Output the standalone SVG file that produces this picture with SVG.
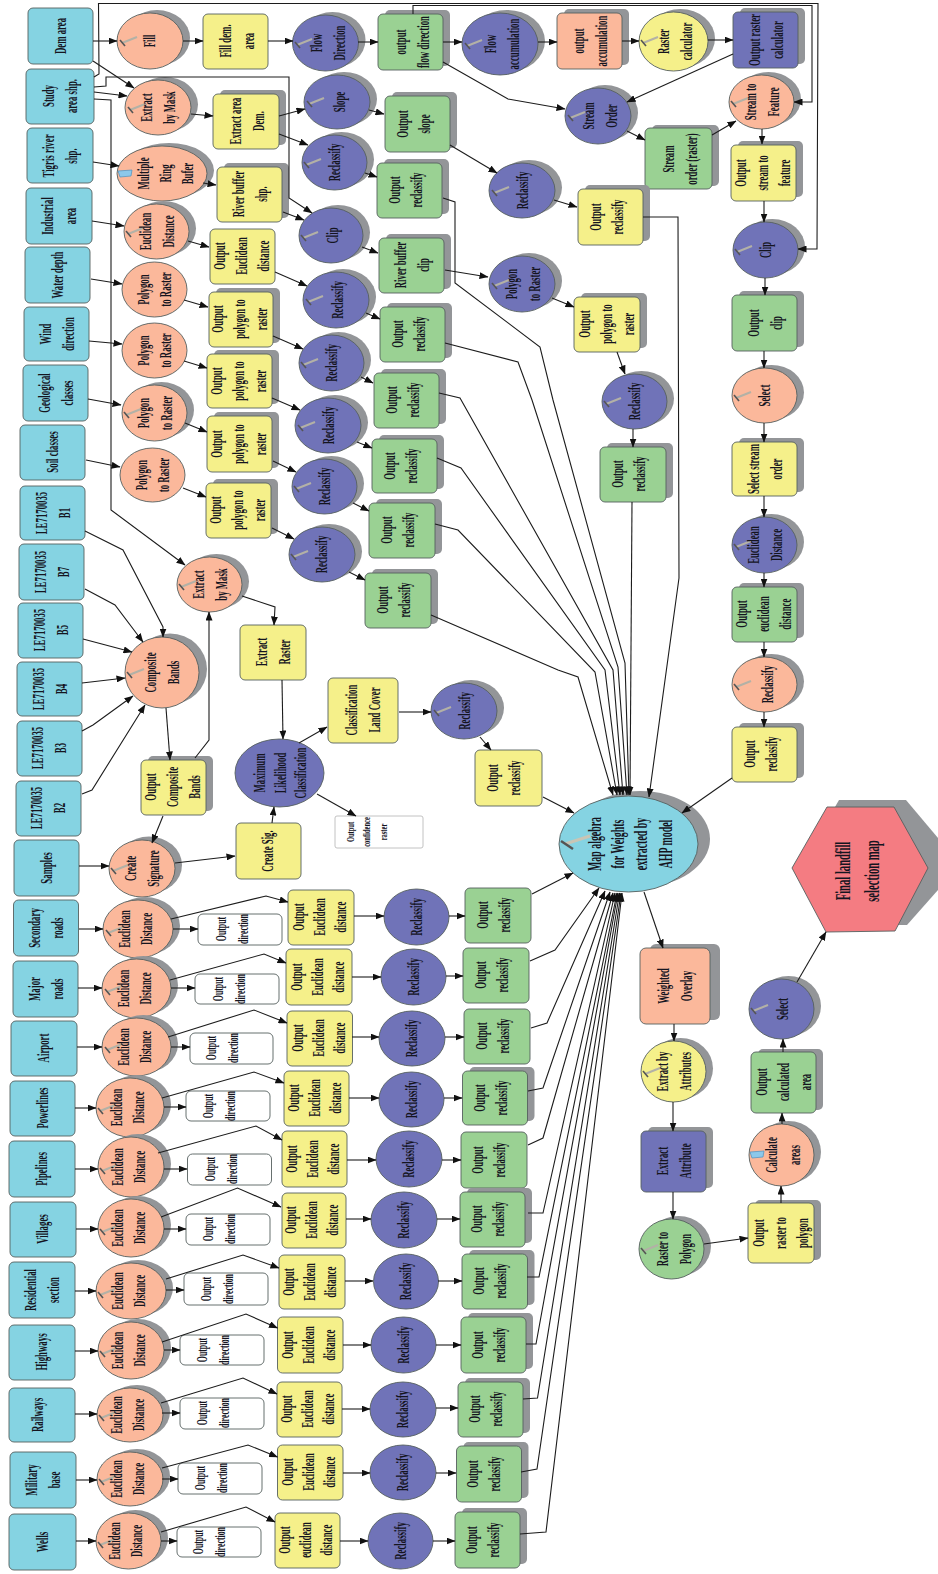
<svg xmlns="http://www.w3.org/2000/svg" xmlns:xlink="http://www.w3.org/1999/xlink" width="938" height="1574" viewBox="0 0 938 1574">
<style>
rect,ellipse,polygon{stroke:#56605f;stroke-width:.9}
.sh{fill:#939598;stroke:none}
.lb{fill:#85d3e2}.sa{fill:#fbb89b}.ye{fill:#f5f08a}.bl{fill:#7073b8}.gr{fill:#9ad193}.re{fill:#f47c82}.wh{fill:#fff}
text{font-family:"Liberation Serif","Times New Roman",serif;font-weight:700;font-size:16px;text-anchor:middle;fill:#15151f}
.sm{font-size:14px}.xs{font-size:10.5px}.lg{font-size:18px}.hx{font-size:20px}
#links polyline{fill:none;stroke:#1c1c1c;stroke-width:1.1;marker-end:url(#a)}
</style>
<defs>
<marker id="a" markerUnits="userSpaceOnUse" markerWidth="9" markerHeight="7" refX="8.5" refY="3.5" orient="auto"><path d="M0 0L9 3.5L0 7z" fill="#111"/></marker>
<g id="h"><path d="M0 0L15-6" stroke="#b3b1a6" stroke-width="2" fill="none"/><path d="M-2-3L3 3" stroke="#555" stroke-width="1.6" fill="none"/></g>
<g id="s"><path d="M0-3L14-4L13 2L2 3z" fill="#8cc8ea" stroke="#4a90c0" stroke-width=".7"/></g>
</defs>
<g id="nodes">
<g id="dem-area"><rect class="lb" x="28" y="8" width="65" height="56" rx="5"/><text transform="translate(60.5 36) rotate(-90) scale(.55 1)" y="5">Dem area</text></g>
<g id="study-area"><rect class="lb" x="26" y="69" width="68" height="55" rx="5"/><text transform="translate(60 96) rotate(-90) scale(.55 1)"><tspan x="0" y="-6">Study</tspan><tspan x="0" y="17">area shp.</tspan></text></g>
<g id="tigris"><rect class="lb" x="27" y="128" width="66" height="55" rx="5"/><text transform="translate(60 156) rotate(-90) scale(.55 1)"><tspan x="0" y="-6">Tigris river</tspan><tspan x="0" y="17">shp.</tspan></text></g>
<g id="industrial"><rect class="lb" x="26" y="188" width="66" height="56" rx="5"/><text transform="translate(59 216) rotate(-90) scale(.55 1)"><tspan x="0" y="-6">Industrial</tspan><tspan x="0" y="17">area</tspan></text></g>
<g id="water-depth"><rect class="lb" x="25" y="247" width="65" height="56" rx="5"/><text transform="translate(58 275) rotate(-90) scale(.55 1)" y="5">Water depth</text></g>
<g id="wind"><rect class="lb" x="24" y="307" width="65" height="54" rx="5"/><text transform="translate(57 334) rotate(-90) scale(.55 1)"><tspan x="0" y="-6">Wind</tspan><tspan x="0" y="17">direction</tspan></text></g>
<g id="geological"><rect class="lb" x="23" y="365" width="65" height="56" rx="5"/><text transform="translate(56 393) rotate(-90) scale(.55 1)"><tspan x="0" y="-6">Geological</tspan><tspan x="0" y="17">classes</tspan></text></g>
<g id="soil"><rect class="lb" x="20" y="425" width="65" height="55" rx="5"/><text transform="translate(53 452) rotate(-90) scale(.55 1)" y="5">Soil classes</text></g>
<g id="b1"><rect class="lb" x="20" y="486" width="65" height="54" rx="5"/><text transform="translate(53 513) rotate(-90) scale(.55 1)"><tspan x="0" y="-6">LE7170035</tspan><tspan x="0" y="17">B1</tspan></text></g>
<g id="b7"><rect class="lb" x="19" y="544" width="65" height="56" rx="5"/><text transform="translate(52 572) rotate(-90) scale(.55 1)"><tspan x="0" y="-6">LE7170035</tspan><tspan x="0" y="17">B7</tspan></text></g>
<g id="b5"><rect class="lb" x="18" y="603" width="65" height="55" rx="5"/><text transform="translate(51 630) rotate(-90) scale(.55 1)"><tspan x="0" y="-6">LE7170035</tspan><tspan x="0" y="17">B5</tspan></text></g>
<g id="b4"><rect class="lb" x="17" y="662" width="65" height="54" rx="5"/><text transform="translate(50 689) rotate(-90) scale(.55 1)"><tspan x="0" y="-6">LE7170035</tspan><tspan x="0" y="17">B4</tspan></text></g>
<g id="b3"><rect class="lb" x="17" y="721" width="65" height="55" rx="5"/><text transform="translate(49 748) rotate(-90) scale(.55 1)"><tspan x="0" y="-6">LE7170035</tspan><tspan x="0" y="17">B3</tspan></text></g>
<g id="b2"><rect class="lb" x="16" y="781" width="65" height="55" rx="5"/><text transform="translate(48 808) rotate(-90) scale(.55 1)"><tspan x="0" y="-6">LE7170035</tspan><tspan x="0" y="17">B2</tspan></text></g>
<g id="samples"><rect class="lb" x="14" y="840" width="65" height="56" rx="5"/><text transform="translate(47 868) rotate(-90) scale(.55 1)" y="5">Samples</text></g>
<g id="secondary"><rect class="lb" x="13.5" y="900" width="65" height="56" rx="5"/><text transform="translate(46 928) rotate(-90) scale(.55 1)"><tspan x="0" y="-6">Secondary</tspan><tspan x="0" y="17">roads</tspan></text></g>
<g id="major"><rect class="lb" x="13" y="961" width="65" height="56" rx="5"/><text transform="translate(46 989) rotate(-90) scale(.55 1)"><tspan x="0" y="-6">Major</tspan><tspan x="0" y="17">roads</tspan></text></g>
<g id="airport"><rect class="lb" x="11" y="1021" width="66" height="55" rx="5"/><text transform="translate(44 1048) rotate(-90) scale(.55 1)" y="5">Airport</text></g>
<g id="powerlines"><rect class="lb" x="10" y="1081" width="65" height="55" rx="5"/><text transform="translate(42.500 1108) rotate(-90) scale(.55 1)" y="5">Powerlines</text></g>
<g id="pipelines"><rect class="lb" x="9" y="1141" width="66" height="56" rx="5"/><text transform="translate(42 1169) rotate(-90) scale(.55 1)" y="5">Pipelines</text></g>
<g id="villages"><rect class="lb" x="10" y="1202" width="66" height="55" rx="5"/><text transform="translate(43 1229) rotate(-90) scale(.55 1)" y="5">Villages</text></g>
<g id="residential"><rect class="lb" x="9" y="1262" width="66" height="56" rx="5"/><text transform="translate(42 1290) rotate(-90) scale(.55 1)"><tspan x="0" y="-6">Residential</tspan><tspan x="0" y="17">section</tspan></text></g>
<g id="highways"><rect class="lb" x="9" y="1325" width="66" height="55" rx="5"/><text transform="translate(42 1352) rotate(-90) scale(.55 1)" y="5">Highways</text></g>
<g id="railways"><rect class="lb" x="9" y="1388" width="66" height="54" rx="5"/><text transform="translate(38 1415) rotate(-90) scale(.55 1)" y="5">Railways</text></g>
<g id="military"><rect class="lb" x="10" y="1452" width="66" height="56" rx="5"/><text transform="translate(43 1480) rotate(-90) scale(.55 1)"><tspan x="0" y="-6">Military</tspan><tspan x="0" y="17">base</tspan></text></g>
<g id="wells"><rect class="lb" x="9" y="1514" width="67" height="56" rx="5"/><text transform="translate(43 1542) rotate(-90) scale(.55 1)" y="5">Wells</text></g>

<g id="fill"><ellipse class="sh" cx="157" cy="38" rx="33" ry="28"/><ellipse class="sa" cx="150" cy="41" rx="33" ry="28"/><use href="#h" x="122" y="43"/><text transform="translate(150 41) rotate(-90) scale(.55 1)" y="5">Fill</text></g>
<g id="fill-dem"><rect class="ye" x="203" y="14" width="65" height="55" rx="5"/><text transform="translate(237 41) rotate(-90) scale(.55 1)"><tspan x="0" y="-6">Fill dem.</tspan><tspan x="0" y="17">area</tspan></text></g>
<g id="flow-direction"><ellipse class="sh" cx="332.500" cy="40" rx="33" ry="28"/><ellipse class="bl" cx="325.500" cy="43" rx="33" ry="28"/><use href="#h" x="297" y="45"/><text transform="translate(328 43) rotate(-90) scale(.55 1)"><tspan x="0" y="-6">Flow</tspan><tspan x="0" y="17">Direction</tspan></text></g>
<g id="output-flow"><rect class="sh" x="385" y="10" width="65" height="56" rx="5"/><rect class="gr" x="378" y="14" width="65" height="56" rx="5"/><text transform="translate(412 42) rotate(-90) scale(.55 1)"><tspan x="0" y="-6">output</tspan><tspan x="0" y="17">flow direction</tspan></text></g>
<g id="flow-accumulation"><ellipse class="sh" cx="507" cy="41" rx="38" ry="31"/><ellipse class="bl" cx="500" cy="44" rx="38" ry="31"/><use href="#h" x="467" y="46"/><text transform="translate(502 44) rotate(-90) scale(.55 1)"><tspan x="0" y="-6">Flow</tspan><tspan x="0" y="17">accumulation</tspan></text></g>
<g id="output-accumulation"><rect class="sh" x="564" y="9" width="65" height="56" rx="5"/><rect class="sa" x="557" y="13" width="65" height="56" rx="5"/><text transform="translate(590 41) rotate(-90) scale(.55 1)"><tspan x="0" y="-6">output</tspan><tspan x="0" y="17">accumulation</tspan></text></g>
<g id="raster-calculator"><ellipse class="sh" cx="680.500" cy="38.500" rx="34.500" ry="29.500"/><ellipse class="ye" cx="673.500" cy="41.500" rx="34.500" ry="29.500"/><use href="#h" x="643" y="43"/><text transform="translate(675 41.500) rotate(-90) scale(.55 1)"><tspan x="0" y="-6">Raster</tspan><tspan x="0" y="17">calculator</tspan></text></g>
<g id="output-raster"><rect class="sh" x="740" y="8" width="65" height="56" rx="5"/><rect class="bl" x="733" y="12" width="65" height="56" rx="5"/><text transform="translate(766 40) rotate(-90) scale(.55 1)"><tspan x="0" y="-6">Output raster</tspan><tspan x="0" y="17">calculator</tspan></text></g>
<g id="extract-mask-1"><ellipse class="sh" cx="165" cy="104.500" rx="33" ry="27.500"/><ellipse class="sa" cx="158" cy="107.500" rx="33" ry="27.500"/><use href="#h" x="130" y="110"/><text transform="translate(158 107.500) rotate(-90) scale(.55 1)"><tspan x="0" y="-6">Extract</tspan><tspan x="0" y="17">by Mask</tspan></text></g>
<g id="extract-area"><rect class="sh" x="220" y="90" width="66" height="55" rx="5"/><rect class="ye" x="213" y="94" width="66" height="55" rx="5"/><text transform="translate(247 121) rotate(-90) scale(.55 1)"><tspan x="0" y="-6">Extract area</tspan><tspan x="0" y="17">Dem.</tspan></text></g>
<g id="slope"><ellipse class="sh" cx="344" cy="99" rx="33" ry="27"/><ellipse class="bl" cx="337" cy="102" rx="33" ry="27"/><use href="#h" x="309" y="104"/><text transform="translate(340 102) rotate(-90) scale(.55 1)" y="5">Slope</text></g>
<g id="output-slope"><rect class="sh" x="392" y="92" width="65" height="56" rx="5"/><rect class="gr" x="385" y="96" width="65" height="56" rx="5"/><text transform="translate(418 124) rotate(-90) scale(.55 1)"><tspan x="0" y="-10">Output</tspan><tspan x="0" y="12">slope</tspan></text></g>
<g id="reclass-1"><ellipse class="sh" cx="341.500" cy="159.500" rx="32.500" ry="27.500"/><ellipse class="bl" cx="334.500" cy="162.500" rx="32.500" ry="27.500"/><use href="#h" x="306" y="165"/><text transform="translate(335 162.500) rotate(-90) scale(.55 1)" y="5">Reclassify</text></g>
<g id="output-reclass-1"><rect class="sh" x="384" y="159" width="65" height="55" rx="5"/><rect class="gr" x="377" y="163" width="65" height="55" rx="5"/><text transform="translate(410 190) rotate(-90) scale(.55 1)"><tspan x="0" y="-10">Output</tspan><tspan x="0" y="12">reclassify</tspan></text></g>
<g id="ring-buffer"><ellipse class="sh" cx="169" cy="170.500" rx="45" ry="27.500"/><ellipse class="sa" cx="162" cy="173.500" rx="45" ry="27.500"/><use href="#s" x="118" y="174"/><text transform="translate(165 173.500) rotate(-90) scale(.55 1)"><tspan x="0" y="-16">Multiple</tspan><tspan x="0" y="6">Ring</tspan><tspan x="0" y="28">Bufer</tspan></text></g>
<g id="river-buffer"><rect class="sh" x="224" y="163" width="65" height="55" rx="5"/><rect class="ye" x="217" y="167" width="65" height="55" rx="5"/><text transform="translate(250 194) rotate(-90) scale(.55 1)"><tspan x="0" y="-6">River buffer</tspan><tspan x="0" y="17">shp.</tspan></text></g>
<g id="clip-1"><ellipse class="sh" cx="338" cy="232.500" rx="32" ry="27.500"/><ellipse class="bl" cx="331" cy="235.500" rx="32" ry="27.500"/><use href="#h" x="303" y="238"/><text transform="translate(333 235.500) rotate(-90) scale(.55 1)" y="5">Clip</text></g>
<g id="river-clip"><rect class="sh" x="386" y="234" width="65" height="55" rx="5"/><rect class="gr" x="379" y="238" width="65" height="55" rx="5"/><text transform="translate(412 265) rotate(-90) scale(.55 1)"><tspan x="0" y="-6">River buffer</tspan><tspan x="0" y="17">clip</tspan></text></g>
<g id="ed-industrial"><ellipse class="sh" cx="163.500" cy="228.500" rx="32.500" ry="27.500"/><ellipse class="sa" cx="156.500" cy="231.500" rx="32.500" ry="27.500"/><use href="#h" x="128" y="234"/><text transform="translate(157 231.500) rotate(-90) scale(.55 1)"><tspan x="0" y="-6">Euclidean</tspan><tspan x="0" y="17">Distance</tspan></text></g>
<g id="out-ed-industrial"><rect class="ye" x="210" y="229" width="65" height="55" rx="5"/><text transform="translate(241 256) rotate(-90) scale(.55 1)"><tspan x="0" y="-16">Output</tspan><tspan x="0" y="6">Euclidean</tspan><tspan x="0" y="28">distance</tspan></text></g>
<g id="reclass-2"><ellipse class="sh" cx="343" cy="297" rx="33" ry="28"/><ellipse class="bl" cx="336" cy="300" rx="33" ry="28"/><use href="#h" x="308" y="302"/><text transform="translate(338 300) rotate(-90) scale(.55 1)" y="5">Reclassify</text></g>
<g id="output-reclass-2"><rect class="sh" x="387" y="303" width="65" height="55" rx="5"/><rect class="gr" x="380" y="307" width="65" height="55" rx="5"/><text transform="translate(413 334) rotate(-90) scale(.55 1)"><tspan x="0" y="-10">Output</tspan><tspan x="0" y="12">reclassify</tspan></text></g>
<g id="poly-water"><ellipse class="sa" cx="154.500" cy="289.500" rx="32.500" ry="27.500"/><text transform="translate(154.500 289.500) rotate(-90) scale(.55 1)"><tspan x="0" y="-6">Polygon</tspan><tspan x="0" y="17">to Raster</tspan></text></g>
<g id="out-poly-water"><rect class="sh" x="216" y="288" width="64" height="55" rx="5"/><rect class="ye" x="209" y="292" width="64" height="55" rx="5"/><text transform="translate(239 319) rotate(-90) scale(.55 1)"><tspan x="0" y="-16">Output</tspan><tspan x="0" y="6">polygon to</tspan><tspan x="0" y="28">raster</tspan></text></g>
<g id="reclass-3"><ellipse class="sh" cx="338.500" cy="360" rx="32.500" ry="28"/><ellipse class="bl" cx="331.500" cy="363" rx="32.500" ry="28"/><use href="#h" x="303" y="365"/><text transform="translate(332 363) rotate(-90) scale(.55 1)" y="5">Reclassify</text></g>
<g id="output-reclass-3"><rect class="sh" x="381" y="369" width="65" height="55" rx="5"/><rect class="gr" x="374" y="373" width="65" height="55" rx="5"/><text transform="translate(407 400) rotate(-90) scale(.55 1)"><tspan x="0" y="-10">Output</tspan><tspan x="0" y="12">reclassify</tspan></text></g>
<g id="poly-wind"><ellipse class="sa" cx="154.500" cy="350.500" rx="32.500" ry="27.500"/><text transform="translate(154.500 350.500) rotate(-90) scale(.55 1)"><tspan x="0" y="-6">Polygon</tspan><tspan x="0" y="17">to Raster</tspan></text></g>
<g id="out-poly-wind"><rect class="sh" x="214" y="350" width="65" height="54" rx="5"/><rect class="ye" x="207" y="354" width="65" height="54" rx="5"/><text transform="translate(238 381) rotate(-90) scale(.55 1)"><tspan x="0" y="-16">Output</tspan><tspan x="0" y="6">polygon to</tspan><tspan x="0" y="28">raster</tspan></text></g>
<g id="poly-geological"><ellipse class="sh" cx="161.500" cy="410" rx="32.500" ry="28"/><ellipse class="sa" cx="154.500" cy="413" rx="32.500" ry="28"/><use href="#h" x="126" y="415"/><text transform="translate(155 413) rotate(-90) scale(.55 1)"><tspan x="0" y="-6">Polygon</tspan><tspan x="0" y="17">to Raster</tspan></text></g>
<g id="out-poly-geological"><rect class="sh" x="214" y="412" width="65" height="56" rx="5"/><rect class="ye" x="207" y="416" width="65" height="56" rx="5"/><text transform="translate(238 444) rotate(-90) scale(.55 1)"><tspan x="0" y="-16">Output</tspan><tspan x="0" y="6">polygon to</tspan><tspan x="0" y="28">raster</tspan></text></g>
<g id="reclass-4"><ellipse class="sh" cx="335" cy="422.500" rx="33" ry="27.500"/><ellipse class="bl" cx="328" cy="425.500" rx="33" ry="27.500"/><use href="#h" x="300" y="428"/><text transform="translate(329 425.500) rotate(-90) scale(.55 1)" y="5">Reclassify</text></g>
<g id="output-reclass-4"><rect class="sh" x="379" y="435" width="65" height="54" rx="5"/><rect class="gr" x="372" y="439" width="65" height="54" rx="5"/><text transform="translate(405 466) rotate(-90) scale(.55 1)"><tspan x="0" y="-10">Output</tspan><tspan x="0" y="12">reclassify</tspan></text></g>
<g id="poly-soil"><ellipse class="sa" cx="152.500" cy="475" rx="32.500" ry="27"/><text transform="translate(152.500 475) rotate(-90) scale(.55 1)"><tspan x="0" y="-6">Polygon</tspan><tspan x="0" y="17">to Raster</tspan></text></g>
<g id="out-poly-soil"><rect class="sh" x="213" y="479" width="65" height="55" rx="5"/><rect class="ye" x="206" y="483" width="65" height="55" rx="5"/><text transform="translate(237 510) rotate(-90) scale(.55 1)"><tspan x="0" y="-16">Output</tspan><tspan x="0" y="6">polygon to</tspan><tspan x="0" y="28">raster</tspan></text></g>
<g id="reclass-5"><ellipse class="sh" cx="331.500" cy="483.500" rx="32.500" ry="27.500"/><ellipse class="bl" cx="324.500" cy="486.500" rx="32.500" ry="27.500"/><use href="#h" x="296" y="489"/><text transform="translate(325 486.500) rotate(-90) scale(.55 1)" y="5">Reclassify</text></g>
<g id="output-reclass-5"><rect class="sh" x="376" y="499" width="66" height="55" rx="5"/><rect class="gr" x="369" y="503" width="66" height="55" rx="5"/><text transform="translate(402 530) rotate(-90) scale(.55 1)"><tspan x="0" y="-10">Output</tspan><tspan x="0" y="12">reclassify</tspan></text></g>
<g id="reclass-6"><ellipse class="sh" cx="329" cy="551.500" rx="33" ry="27.500"/><ellipse class="bl" cx="322" cy="554.500" rx="33" ry="27.500"/><use href="#h" x="293" y="557"/><text transform="translate(322 554.500) rotate(-90) scale(.55 1)" y="5">Reclassify</text></g>
<g id="output-reclass-6"><rect class="sh" x="372" y="569" width="66" height="55" rx="5"/><rect class="gr" x="365" y="573" width="66" height="55" rx="5"/><text transform="translate(398 600) rotate(-90) scale(.55 1)"><tspan x="0" y="-10">Output</tspan><tspan x="0" y="12">reclassify</tspan></text></g>
<g id="extract-mask-2"><ellipse class="sh" cx="216.500" cy="581.500" rx="32.500" ry="27.500"/><ellipse class="sa" cx="209.500" cy="584.500" rx="32.500" ry="27.500"/><use href="#h" x="181" y="587"/><text transform="translate(210 584.500) rotate(-90) scale(.55 1)"><tspan x="0" y="-6">Extract</tspan><tspan x="0" y="17">by Mask</tspan></text></g>
<g id="extract-raster"><rect class="ye" x="240" y="625" width="66" height="55" rx="5"/><text transform="translate(273 652) rotate(-90) scale(.55 1)"><tspan x="0" y="-6">Extract</tspan><tspan x="0" y="17">Raster</tspan></text></g>
<g id="composite"><ellipse class="sh" cx="170" cy="669" rx="37" ry="35.500"/><ellipse class="sa" cx="162" cy="672.500" rx="37" ry="35.500"/><use href="#h" x="129" y="675"/><text transform="translate(162 672.500) rotate(-90) scale(.55 1)"><tspan x="0" y="-6">Composite</tspan><tspan x="0" y="17">Bands</tspan></text></g>
<g id="output-composite"><rect class="sh" x="148" y="756" width="65" height="55" rx="5"/><rect class="ye" x="141" y="760" width="65" height="55" rx="5"/><text transform="translate(172 787) rotate(-90) scale(.55 1)"><tspan x="0" y="-16">Output</tspan><tspan x="0" y="6">Composite</tspan><tspan x="0" y="28">Bands</tspan></text></g>
<g id="max-likelihood"><ellipse class="bl" cx="279.500" cy="773" rx="44.500" ry="34"/><text transform="translate(280 773) rotate(-90) scale(.55 1)"><tspan x="0" y="-15">Maximum</tspan><tspan x="0" y="6">Likelihood</tspan><tspan x="0" y="26">Classification</tspan></text></g>
<g id="classification"><rect class="ye" x="328" y="678" width="70" height="65" rx="5"/><text transform="translate(363 710) rotate(-90) scale(.55 1)"><tspan x="0" y="-6">Classification</tspan><tspan x="0" y="17">Land Cover</tspan></text></g>
<g id="reclass-land"><ellipse class="sh" cx="471" cy="708" rx="33" ry="28"/><ellipse class="bl" cx="464" cy="711" rx="33" ry="28"/><use href="#h" x="436" y="713"/><text transform="translate(465 711) rotate(-90) scale(.55 1)" y="5">Reclassify</text></g>
<g id="output-reclass-land"><rect class="ye" x="475" y="750" width="67" height="56" rx="5"/><text transform="translate(508 778) rotate(-90) scale(.55 1)"><tspan x="0" y="-10">Output</tspan><tspan x="0" y="12">reclassify</tspan></text></g>
<g id="confidence"><rect class="wh" x="335" y="816" width="88" height="32" rx="2" style="stroke:#bbb"/><text class="xs" transform="translate(367 832) rotate(-90) scale(.62 1)"><tspan x="0" y="-13">Output</tspan><tspan x="0" y="3">confidence</tspan><tspan x="0" y="20">raster</tspan></text></g>
<g id="create-signature"><ellipse class="sh" cx="149" cy="865" rx="33" ry="28.500"/><ellipse class="sa" cx="142" cy="868.500" rx="33" ry="28.500"/><use href="#h" x="113" y="871"/><text transform="translate(142 868.500) rotate(-90) scale(.55 1)"><tspan x="0" y="-6">Create</tspan><tspan x="0" y="17">Signature</tspan></text></g>
<g id="create-sig"><rect class="ye" x="236" y="823" width="65" height="56" rx="5"/><text transform="translate(268 851) rotate(-90) scale(.55 1)" y="5">Create Sig.</text></g>

<g id="stream-order"><ellipse class="sh" cx="605" cy="113" rx="33" ry="28"/><ellipse class="bl" cx="598" cy="116" rx="33" ry="28"/><use href="#h" x="570" y="118"/><text transform="translate(600 116) rotate(-90) scale(.55 1)"><tspan x="0" y="-6">Stream</tspan><tspan x="0" y="17">Order</tspan></text></g>
<g id="stream-raster"><rect class="sh" x="652" y="125" width="67" height="61" rx="5"/><rect class="gr" x="645" y="128" width="67" height="61" rx="5"/><text transform="translate(680 159) rotate(-90) scale(.55 1)"><tspan x="0" y="-6">Stream</tspan><tspan x="0" y="17">order (raster)</tspan></text></g>
<g id="stream-feature"><ellipse class="sh" cx="768.500" cy="99" rx="32.500" ry="27"/><ellipse class="sa" cx="761.500" cy="102" rx="32.500" ry="27"/><use href="#h" x="733" y="104"/><text transform="translate(762 102) rotate(-90) scale(.55 1)"><tspan x="0" y="-6">Stream to</tspan><tspan x="0" y="17">Feature</tspan></text></g>
<g id="out-stream-feature"><rect class="sh" x="738" y="141" width="65" height="56" rx="5"/><rect class="ye" x="731" y="145" width="65" height="56" rx="5"/><text transform="translate(762 173) rotate(-90) scale(.55 1)"><tspan x="0" y="-16">Output</tspan><tspan x="0" y="6">stream to</tspan><tspan x="0" y="28">feature</tspan></text></g>
<g id="clip-2"><ellipse class="sh" cx="772.500" cy="247" rx="32.500" ry="28"/><ellipse class="bl" cx="765.500" cy="250" rx="32.500" ry="28"/><use href="#h" x="737" y="252"/><text transform="translate(766 250) rotate(-90) scale(.55 1)" y="5">Clip</text></g>
<g id="output-clip"><rect class="sh" x="739" y="291" width="65" height="56" rx="5"/><rect class="gr" x="732" y="295" width="65" height="56" rx="5"/><text transform="translate(765 323) rotate(-90) scale(.55 1)"><tspan x="0" y="-6">Output</tspan><tspan x="0" y="17">clip</tspan></text></g>
<g id="select-1"><ellipse class="sh" cx="771.500" cy="392.500" rx="32.500" ry="27.500"/><ellipse class="sa" cx="764.500" cy="395.500" rx="32.500" ry="27.500"/><use href="#h" x="736" y="398"/><text transform="translate(765 395.500) rotate(-90) scale(.55 1)" y="5">Select</text></g>
<g id="select-stream"><rect class="sh" x="739" y="438" width="65" height="54" rx="5"/><rect class="ye" x="732" y="442" width="65" height="54" rx="5"/><text transform="translate(765 469) rotate(-90) scale(.55 1)"><tspan x="0" y="-6">Select stream</tspan><tspan x="0" y="17">order</tspan></text></g>
<g id="ed-stream"><ellipse class="sh" cx="771.500" cy="542" rx="32.500" ry="28"/><ellipse class="bl" cx="764.500" cy="545" rx="32.500" ry="28"/><use href="#h" x="736" y="547"/><text transform="translate(765 545) rotate(-90) scale(.55 1)"><tspan x="0" y="-6">Euclidean</tspan><tspan x="0" y="17">Distance</tspan></text></g>
<g id="out-ed-stream"><rect class="sh" x="739" y="583" width="65" height="55" rx="5"/><rect class="gr" x="732" y="587" width="65" height="55" rx="5"/><text transform="translate(763 614) rotate(-90) scale(.55 1)"><tspan x="0" y="-16">Output</tspan><tspan x="0" y="6">euclidean</tspan><tspan x="0" y="28">distance</tspan></text></g>
<g id="reclass-stream"><ellipse class="sh" cx="771.500" cy="681.500" rx="32.500" ry="27.500"/><ellipse class="sa" cx="764.500" cy="684.500" rx="32.500" ry="27.500"/><use href="#h" x="736" y="687"/><text transform="translate(768 684.500) rotate(-90) scale(.55 1)" y="5">Reclassify</text></g>
<g id="out-reclass-stream"><rect class="sh" x="739" y="723" width="65" height="55" rx="5"/><rect class="ye" x="732" y="727" width="65" height="55" rx="5"/><text transform="translate(765 754) rotate(-90) scale(.55 1)"><tspan x="0" y="-10">Output</tspan><tspan x="0" y="12">reclassify</tspan></text></g>
<g id="reclass-dem"><ellipse class="sh" cx="529" cy="187.500" rx="33" ry="27.500"/><ellipse class="bl" cx="522" cy="190.500" rx="33" ry="27.500"/><use href="#h" x="494" y="193"/><text transform="translate(523 190.500) rotate(-90) scale(.55 1)" y="5">Reclassify</text></g>
<g id="out-reclass-dem"><rect class="sh" x="585" y="185" width="65" height="56" rx="5"/><rect class="ye" x="578" y="189" width="65" height="56" rx="5"/><text transform="translate(611 217) rotate(-90) scale(.55 1)"><tspan x="0" y="-10">Output</tspan><tspan x="0" y="12">reclassify</tspan></text></g>
<g id="poly-river"><ellipse class="sh" cx="529" cy="281" rx="33" ry="28"/><ellipse class="bl" cx="522" cy="284" rx="33" ry="28"/><use href="#h" x="494" y="286"/><text transform="translate(523 284) rotate(-90) scale(.55 1)"><tspan x="0" y="-6">Polygon</tspan><tspan x="0" y="17">to Raster</tspan></text></g>
<g id="out-poly-river"><rect class="sh" x="581" y="293" width="66" height="55" rx="5"/><rect class="ye" x="574" y="297" width="66" height="55" rx="5"/><text transform="translate(606 324) rotate(-90) scale(.55 1)"><tspan x="0" y="-16">Output</tspan><tspan x="0" y="6">polygon to</tspan><tspan x="0" y="28">raster</tspan></text></g>
<g id="reclass-river"><ellipse class="sh" cx="641.500" cy="398.500" rx="32.500" ry="27.500"/><ellipse class="bl" cx="634.500" cy="401.500" rx="32.500" ry="27.500"/><use href="#h" x="606" y="404"/><text transform="translate(635 401.500) rotate(-90) scale(.55 1)" y="5">Reclassify</text></g>
<g id="out-reclass-river"><rect class="sh" x="607" y="443" width="66" height="55" rx="5"/><rect class="gr" x="600" y="447" width="66" height="55" rx="5"/><text transform="translate(633 474) rotate(-90) scale(.55 1)"><tspan x="0" y="-10">Output</tspan><tspan x="0" y="12">reclassify</tspan></text></g>

<g id="map-algebra"><ellipse class="sh" cx="640.500" cy="839" rx="69.500" ry="48"/><ellipse class="lb" cx="628.500" cy="844" rx="69.500" ry="48"/><path d="M565 844L590 836" stroke="#c9c5b5" stroke-width="3" fill="none"/><path d="M561 841L573 849" stroke="#555" stroke-width="2.500" fill="none"/><text class="lg" transform="translate(630 844) rotate(-90) scale(.55 1)"><tspan x="0" y="-29">Map algebra</tspan><tspan x="0" y="-6">for Weights</tspan><tspan x="0" y="17">extracted by</tspan><tspan x="0" y="42">AHP model</tspan></text></g>
<g id="final-map"><polygon class="sh" points="804,861 839,800 906,800 938,838 938,890 907,925 838,925"/><polygon class="re" points="792,868 827,807 894,807 928,868 895,931 826,932"/><text class="hx" transform="translate(859 871) rotate(-90) scale(.53 1)"><tspan x="0" y="-9">Final landfill</tspan><tspan x="0" y="20">selection map</tspan></text></g>
<g id="weighted-overlay"><rect class="sh" x="650" y="944" width="70" height="76" rx="6"/><rect class="sa" x="640" y="948" width="70" height="76" rx="6"/><text transform="translate(675 986) rotate(-90) scale(.55 1)"><tspan x="0" y="-6">Weighted</tspan><tspan x="0" y="17">Overlay</tspan></text></g>
<g id="extract-attributes"><ellipse class="sh" cx="680.500" cy="1068.500" rx="32.500" ry="30.500"/><ellipse class="ye" cx="673.500" cy="1071.500" rx="32.500" ry="30.500"/><use href="#h" x="645" y="1074"/><text transform="translate(674 1071.500) rotate(-90) scale(.55 1)"><tspan x="0" y="-6">Extract by</tspan><tspan x="0" y="17">Attributes</tspan></text></g>
<g id="extract-attribute"><rect class="sh" x="648" y="1127" width="65" height="61" rx="5"/><rect class="bl" x="641" y="1131" width="65" height="61" rx="5"/><text transform="translate(674 1161) rotate(-90) scale(.55 1)"><tspan x="0" y="-6">Extract</tspan><tspan x="0" y="17">Attribute</tspan></text></g>
<g id="raster-polygon"><ellipse class="sh" cx="678.500" cy="1246" rx="32.500" ry="30"/><ellipse class="gr" cx="671.500" cy="1249" rx="32.500" ry="30"/><use href="#h" x="643" y="1251"/><text transform="translate(674 1249) rotate(-90) scale(.55 1)"><tspan x="0" y="-6">Raster to</tspan><tspan x="0" y="17">Polygon</tspan></text></g>
<g id="out-raster-polygon"><rect class="sh" x="755" y="1200" width="66" height="60" rx="5"/><rect class="ye" x="748" y="1203" width="66" height="60" rx="5"/><text transform="translate(780 1233) rotate(-90) scale(.55 1)"><tspan x="0" y="-16">Output</tspan><tspan x="0" y="6">raster to</tspan><tspan x="0" y="28">polygon</tspan></text></g>
<g id="calculate-areas"><ellipse class="sh" cx="788.500" cy="1152" rx="32.500" ry="31"/><ellipse class="sa" cx="781.500" cy="1155" rx="32.500" ry="31"/><use href="#s" x="750" y="1155"/><text transform="translate(783 1155) rotate(-90) scale(.55 1)"><tspan x="0" y="-6">Calculate</tspan><tspan x="0" y="17">areas</tspan></text></g>
<g id="out-calculated"><rect class="sh" x="758" y="1049" width="65" height="61" rx="5"/><rect class="gr" x="751" y="1052" width="65" height="61" rx="5"/><text transform="translate(783 1082) rotate(-90) scale(.55 1)"><tspan x="0" y="-16">Output</tspan><tspan x="0" y="6">calculated</tspan><tspan x="0" y="28">area</tspan></text></g>
<g id="select-2"><ellipse class="sh" cx="788.500" cy="1006" rx="32.500" ry="30"/><ellipse class="bl" cx="781.500" cy="1009" rx="32.500" ry="30"/><use href="#h" x="753" y="1011"/><text transform="translate(783 1009) rotate(-90) scale(.55 1)" y="5">Select</text></g>

<g id="ed-secondary"><ellipse class="sh" cx="145" cy="926" rx="35" ry="29"/><ellipse class="sa" cx="138" cy="929" rx="35" ry="29"/><use href="#h" x="108" y="933"/><text transform="translate(139 929) rotate(-90) scale(.55 1)"><tspan x="0" y="-9">Euclidean</tspan><tspan x="0" y="13">Distance</tspan></text></g>
<g id="dir-secondary"><rect class="wh" x="198" y="914" width="84" height="31" rx="5"/><text class="sm" transform="translate(232 929) rotate(-90) scale(.56 1)"><tspan x="0" y="-6">Output</tspan><tspan x="0" y="16">direction</tspan></text></g>
<g id="oed-secondary"><rect class="ye" x="288" y="890" width="66" height="55" rx="5"/><text transform="translate(321 917) rotate(-90) scale(.55 1)"><tspan x="0" y="-17">Output</tspan><tspan x="0" y="4">Euclidean</tspan><tspan x="0" y="25">distance</tspan></text></g>
<g id="rc-secondary"><ellipse class="bl" cx="416.500" cy="917" rx="32.500" ry="28"/><text transform="translate(417 917) rotate(-90) scale(.55 1)" y="5">Reclassify</text></g>
<g id="orc-secondary"><rect class="gr" x="465" y="888" width="66" height="55" rx="5"/><text transform="translate(498 915) rotate(-90) scale(.55 1)"><tspan x="0" y="-10">Output</tspan><tspan x="0" y="12">reclassify</tspan></text></g>

<g id="ed-major"><ellipse class="sh" cx="143.500" cy="985.500" rx="34.500" ry="29.500"/><ellipse class="sa" cx="136.500" cy="988.500" rx="34.500" ry="29.500"/><use href="#h" x="107" y="992"/><text transform="translate(138 988.500) rotate(-90) scale(.55 1)"><tspan x="0" y="-9">Euclidean</tspan><tspan x="0" y="13">Distance</tspan></text></g>
<g id="dir-major"><rect class="wh" x="195" y="974" width="84" height="30" rx="5"/><text class="sm" transform="translate(229 989) rotate(-90) scale(.56 1)"><tspan x="0" y="-6">Output</tspan><tspan x="0" y="16">direction</tspan></text></g>
<g id="oed-major"><rect class="ye" x="286" y="949" width="66" height="56" rx="5"/><text transform="translate(319 977) rotate(-90) scale(.55 1)"><tspan x="0" y="-17">Output</tspan><tspan x="0" y="4">Euclidean</tspan><tspan x="0" y="25">distance</tspan></text></g>
<g id="rc-major"><ellipse class="bl" cx="413.500" cy="977" rx="32.500" ry="28"/><text transform="translate(414 977) rotate(-90) scale(.55 1)" y="5">Reclassify</text></g>
<g id="orc-major"><rect class="gr" x="463" y="948" width="66" height="55" rx="5"/><text transform="translate(496 975) rotate(-90) scale(.55 1)"><tspan x="0" y="-10">Output</tspan><tspan x="0" y="12">reclassify</tspan></text></g>

<g id="ed-airport"><ellipse class="sh" cx="143.500" cy="1044" rx="34.500" ry="29"/><ellipse class="sa" cx="136.500" cy="1047" rx="34.500" ry="29"/><use href="#h" x="107" y="1050"/><text transform="translate(138 1047) rotate(-90) scale(.55 1)"><tspan x="0" y="-9">Euclidean</tspan><tspan x="0" y="13">Distance</tspan></text></g>
<g id="dir-airport"><rect class="wh" x="190" y="1033" width="83" height="31" rx="5"/><text class="sm" transform="translate(222 1048) rotate(-90) scale(.56 1)"><tspan x="0" y="-6">Output</tspan><tspan x="0" y="16">direction</tspan></text></g>
<g id="oed-airport"><rect class="ye" x="287" y="1011" width="65.500" height="55" rx="5"/><text transform="translate(320 1038) rotate(-90) scale(.55 1)"><tspan x="0" y="-17">Output</tspan><tspan x="0" y="4">Euclidean</tspan><tspan x="0" y="25">distance</tspan></text></g>
<g id="rc-airport"><ellipse class="bl" cx="412" cy="1038.500" rx="33" ry="27.500"/><text transform="translate(412 1038.500) rotate(-90) scale(.55 1)" y="5">Reclassify</text></g>
<g id="orc-airport"><rect class="gr" x="464" y="1009" width="66" height="55" rx="5"/><text transform="translate(497 1036) rotate(-90) scale(.55 1)"><tspan x="0" y="-10">Output</tspan><tspan x="0" y="12">reclassify</tspan></text></g>

<g id="ed-powerlines"><ellipse class="sh" cx="137" cy="1104.500" rx="34" ry="29.500"/><ellipse class="sa" cx="130" cy="1107.500" rx="34" ry="29.500"/><use href="#h" x="100" y="1111"/><text transform="translate(131 1107.500) rotate(-90) scale(.55 1)"><tspan x="0" y="-9">Euclidean</tspan><tspan x="0" y="13">Distance</tspan></text></g>
<g id="dir-powerlines"><rect class="wh" x="186" y="1091" width="84" height="30" rx="5"/><text class="sm" transform="translate(219 1106) rotate(-90) scale(.56 1)"><tspan x="0" y="-6">Output</tspan><tspan x="0" y="16">direction</tspan></text></g>
<g id="oed-powerlines"><rect class="ye" x="284" y="1071" width="65" height="55" rx="5"/><text transform="translate(316 1098) rotate(-90) scale(.55 1)"><tspan x="0" y="-17">Output</tspan><tspan x="0" y="4">Euclidean</tspan><tspan x="0" y="25">distance</tspan></text></g>
<g id="rc-powerlines"><ellipse class="bl" cx="411.500" cy="1099.500" rx="32.500" ry="27.500"/><text transform="translate(411.500 1099.500) rotate(-90) scale(.55 1)" y="5">Reclassify</text></g>
<g id="orc-powerlines"><rect class="sh" x="469.500" y="1067" width="65" height="54" rx="5"/><rect class="gr" x="462.500" y="1071" width="65" height="54" rx="5"/><text transform="translate(495 1098) rotate(-90) scale(.55 1)"><tspan x="0" y="-10">Output</tspan><tspan x="0" y="12">reclassify</tspan></text></g>

<g id="ed-pipelines"><ellipse class="sh" cx="138" cy="1164" rx="33" ry="30"/><ellipse class="sa" cx="131" cy="1167" rx="33" ry="30"/><use href="#h" x="102" y="1171"/><text transform="translate(132 1167) rotate(-90) scale(.55 1)"><tspan x="0" y="-9">Euclidean</tspan><tspan x="0" y="13">Distance</tspan></text></g>
<g id="dir-pipelines"><rect class="wh" x="187.500" y="1154" width="84" height="31" rx="5"/><text class="sm" transform="translate(221 1169) rotate(-90) scale(.56 1)"><tspan x="0" y="-6">Output</tspan><tspan x="0" y="16">direction</tspan></text></g>
<g id="oed-pipelines"><rect class="ye" x="282" y="1131" width="65" height="56" rx="5"/><text transform="translate(314 1159) rotate(-90) scale(.55 1)"><tspan x="0" y="-17">Output</tspan><tspan x="0" y="4">Euclidean</tspan><tspan x="0" y="25">distance</tspan></text></g>
<g id="rc-pipelines"><ellipse class="bl" cx="409" cy="1159" rx="33" ry="28"/><text transform="translate(409 1159) rotate(-90) scale(.55 1)" y="5">Reclassify</text></g>
<g id="orc-pipelines"><rect class="gr" x="461" y="1132" width="66" height="56" rx="5"/><text transform="translate(493 1160) rotate(-90) scale(.55 1)"><tspan x="0" y="-10">Output</tspan><tspan x="0" y="12">reclassify</tspan></text></g>

<g id="ed-villages"><ellipse class="sh" cx="138" cy="1225" rx="33" ry="29"/><ellipse class="sa" cx="131" cy="1228" rx="33" ry="29"/><use href="#h" x="102" y="1232"/><text transform="translate(132 1228) rotate(-90) scale(.55 1)"><tspan x="0" y="-9">Euclidean</tspan><tspan x="0" y="13">Distance</tspan></text></g>
<g id="dir-villages"><rect class="wh" x="186" y="1214" width="84" height="31" rx="5"/><text class="sm" transform="translate(219 1229) rotate(-90) scale(.56 1)"><tspan x="0" y="-6">Output</tspan><tspan x="0" y="16">direction</tspan></text></g>
<g id="oed-villages"><rect class="ye" x="282" y="1193" width="64" height="55" rx="5"/><text transform="translate(313 1220) rotate(-90) scale(.55 1)"><tspan x="0" y="-17">Output</tspan><tspan x="0" y="4">Euclidean</tspan><tspan x="0" y="25">distance</tspan></text></g>
<g id="rc-villages"><ellipse class="bl" cx="404" cy="1220" rx="33" ry="28"/><text transform="translate(404 1220) rotate(-90) scale(.55 1)" y="5">Reclassify</text></g>
<g id="orc-villages"><rect class="sh" x="467" y="1188" width="65" height="55" rx="5"/><rect class="gr" x="460" y="1192" width="65" height="55" rx="5"/><text transform="translate(492 1219) rotate(-90) scale(.55 1)"><tspan x="0" y="-10">Output</tspan><tspan x="0" y="12">reclassify</tspan></text></g>

<g id="ed-residential"><ellipse class="sh" cx="138" cy="1288" rx="35" ry="28"/><ellipse class="sa" cx="131" cy="1291" rx="35" ry="28"/><use href="#h" x="100" y="1295"/><text transform="translate(132 1291) rotate(-90) scale(.55 1)"><tspan x="0" y="-9">Euclidean</tspan><tspan x="0" y="13">Distance</tspan></text></g>
<g id="dir-residential"><rect class="wh" x="184" y="1273" width="84" height="32" rx="5"/><text class="sm" transform="translate(217 1289) rotate(-90) scale(.56 1)"><tspan x="0" y="-6">Output</tspan><tspan x="0" y="16">direction</tspan></text></g>
<g id="oed-residential"><rect class="ye" x="279" y="1255" width="66" height="54" rx="5"/><text transform="translate(311 1282) rotate(-90) scale(.55 1)"><tspan x="0" y="-17">Output</tspan><tspan x="0" y="4">Euclidean</tspan><tspan x="0" y="25">distance</tspan></text></g>
<g id="rc-residential"><ellipse class="bl" cx="406" cy="1281.500" rx="32.500" ry="27.500"/><text transform="translate(406 1281.500) rotate(-90) scale(.55 1)" y="5">Reclassify</text></g>
<g id="orc-residential"><rect class="sh" x="469" y="1250" width="65.500" height="55" rx="5"/><rect class="gr" x="462" y="1254" width="65.500" height="55" rx="5"/><text transform="translate(494 1281) rotate(-90) scale(.55 1)"><tspan x="0" y="-10">Output</tspan><tspan x="0" y="12">reclassify</tspan></text></g>

<g id="ed-highways"><ellipse class="sh" cx="138" cy="1347.500" rx="33" ry="28.500"/><ellipse class="sa" cx="131" cy="1350.500" rx="33" ry="28.500"/><use href="#h" x="102" y="1354"/><text transform="translate(132 1350.500) rotate(-90) scale(.55 1)"><tspan x="0" y="-9">Euclidean</tspan><tspan x="0" y="13">Distance</tspan></text></g>
<g id="dir-highways"><rect class="wh" x="180" y="1335" width="84" height="30" rx="5"/><text class="sm" transform="translate(213 1350) rotate(-90) scale(.56 1)"><tspan x="0" y="-6">Output</tspan><tspan x="0" y="16">direction</tspan></text></g>
<g id="oed-highways"><rect class="ye" x="277.500" y="1317" width="65.500" height="56" rx="5"/><text transform="translate(310 1345) rotate(-90) scale(.55 1)"><tspan x="0" y="-17">Output</tspan><tspan x="0" y="4">Euclidean</tspan><tspan x="0" y="25">distance</tspan></text></g>
<g id="rc-highways"><ellipse class="bl" cx="403.500" cy="1345" rx="32.500" ry="28"/><text transform="translate(403.500 1345) rotate(-90) scale(.55 1)" y="5">Reclassify</text></g>
<g id="orc-highways"><rect class="sh" x="468" y="1313" width="65" height="56" rx="5"/><rect class="gr" x="461" y="1317" width="65" height="56" rx="5"/><text transform="translate(493 1345) rotate(-90) scale(.55 1)"><tspan x="0" y="-10">Output</tspan><tspan x="0" y="12">reclassify</tspan></text></g>

<g id="ed-railways"><ellipse class="sh" cx="137" cy="1412" rx="33" ry="27"/><ellipse class="sa" cx="130" cy="1415" rx="33" ry="27"/><use href="#h" x="101" y="1418"/><text transform="translate(131 1415) rotate(-90) scale(.55 1)"><tspan x="0" y="-9">Euclidean</tspan><tspan x="0" y="13">Distance</tspan></text></g>
<g id="dir-railways"><rect class="wh" x="180" y="1398" width="84" height="31" rx="5"/><text class="sm" transform="translate(213 1413) rotate(-90) scale(.56 1)"><tspan x="0" y="-6">Output</tspan><tspan x="0" y="16">direction</tspan></text></g>
<g id="oed-railways"><rect class="ye" x="277" y="1382" width="65" height="55" rx="5"/><text transform="translate(309 1409) rotate(-90) scale(.55 1)"><tspan x="0" y="-17">Output</tspan><tspan x="0" y="4">Euclidean</tspan><tspan x="0" y="25">distance</tspan></text></g>
<g id="rc-railways"><ellipse class="bl" cx="403" cy="1409.500" rx="33" ry="27.500"/><text transform="translate(403 1409.500) rotate(-90) scale(.55 1)" y="5">Reclassify</text></g>
<g id="orc-railways"><rect class="sh" x="465" y="1378" width="65" height="55" rx="5"/><rect class="gr" x="458" y="1382" width="65" height="55" rx="5"/><text transform="translate(490 1409) rotate(-90) scale(.55 1)"><tspan x="0" y="-10">Output</tspan><tspan x="0" y="12">reclassify</tspan></text></g>

<g id="ed-military"><ellipse class="sh" cx="137" cy="1476" rx="33" ry="27"/><ellipse class="sa" cx="130" cy="1479" rx="33" ry="27"/><use href="#h" x="101" y="1482"/><text transform="translate(131 1479) rotate(-90) scale(.55 1)"><tspan x="0" y="-9">Euclidean</tspan><tspan x="0" y="13">Distance</tspan></text></g>
<g id="dir-military"><rect class="wh" x="178" y="1463" width="84" height="31" rx="5"/><text class="sm" transform="translate(211 1478) rotate(-90) scale(.56 1)"><tspan x="0" y="-6">Output</tspan><tspan x="0" y="16">direction</tspan></text></g>
<g id="oed-military"><rect class="ye" x="277.500" y="1445" width="65.500" height="55" rx="5"/><text transform="translate(310 1472) rotate(-90) scale(.55 1)"><tspan x="0" y="-17">Output</tspan><tspan x="0" y="4">Euclidean</tspan><tspan x="0" y="25">distance</tspan></text></g>
<g id="rc-military"><ellipse class="bl" cx="403" cy="1472.500" rx="33" ry="27.500"/><text transform="translate(403 1472.500) rotate(-90) scale(.55 1)" y="5">Reclassify</text></g>
<g id="orc-military"><rect class="sh" x="463.500" y="1442" width="65" height="56" rx="5"/><rect class="gr" x="456.500" y="1446" width="65" height="56" rx="5"/><text transform="translate(488 1474) rotate(-90) scale(.55 1)"><tspan x="0" y="-10">Output</tspan><tspan x="0" y="12">reclassify</tspan></text></g>

<g id="ed-wells"><ellipse class="sh" cx="135.500" cy="1538" rx="32.500" ry="28"/><ellipse class="sa" cx="128.500" cy="1541" rx="32.500" ry="28"/><use href="#h" x="100" y="1545"/><text transform="translate(129 1541) rotate(-90) scale(.55 1)"><tspan x="0" y="-9">Euclidean</tspan><tspan x="0" y="13">Distance</tspan></text></g>
<g id="dir-wells"><rect class="wh" x="177" y="1527" width="84" height="30" rx="5"/><text class="sm" transform="translate(209 1542) rotate(-90) scale(.56 1)"><tspan x="0" y="-6">Output</tspan><tspan x="0" y="16">direction</tspan></text></g>
<g id="oed-wells"><rect class="ye" x="275" y="1513" width="65" height="55" rx="5"/><text transform="translate(307 1540) rotate(-90) scale(.55 1)"><tspan x="0" y="-17">Output</tspan><tspan x="0" y="4">euclidean</tspan><tspan x="0" y="25">distance</tspan></text></g>
<g id="rc-wells"><ellipse class="bl" cx="400.500" cy="1541" rx="32.500" ry="28"/><text transform="translate(400.500 1541) rotate(-90) scale(.55 1)" y="5">Reclassify</text></g>
<g id="orc-wells"><rect class="sh" x="462" y="1508" width="65" height="56" rx="5"/><rect class="gr" x="455" y="1512" width="65" height="56" rx="5"/><text transform="translate(487 1540) rotate(-90) scale(.55 1)"><tspan x="0" y="-10">Output</tspan><tspan x="0" y="12">reclassify</tspan></text></g>
</g>
<g id="links">
<polyline points="93,41 117,41"/><polyline points="183,41 203,41"/><polyline points="268,41 293,41"/><polyline points="358,42 378,42"/><polyline points="443,42 462,42"/><polyline points="538,42 557,42"/><polyline points="622,41 639,41"/><polyline points="708,40 733,40"/>
<polyline points="733,54 627,102"/><polyline points="443,62 508,99 565,109"/><polyline points="627,131 645,140"/><polyline points="712,135 736,121"/><polyline points="762,129 762,144"/><polyline points="764,201 764,222"/><polyline points="765,278 765,295"/><polyline points="764,351 764,368"/><polyline points="764,423 764,442"/><polyline points="764,496 764,517"/><polyline points="764,573 764,587"/><polyline points="764,642 764,657"/><polyline points="764,712 764,727"/><polyline points="732,778 682,813"/>
<polyline points="94,77 99,74 98.500,3.500 818,3.500 817,249 798,249"/><polyline points="413,14 413,5.500 812,5.500 812,102 794,102"/>
<polyline points="94,92 127,96"/><polyline points="93,61 134,88"/><polyline points="191,114 213,116"/><polyline points="94,87 106,86 106,77 289,77 289,198 312,213"/><polyline points="94,99 111,100 111,510 185,565"/>
<polyline points="279,116 305,109"/><polyline points="279,134 308,145"/><polyline points="369,110 384,114"/><polyline points="365,173 377,177"/><polyline points="450,145 497,173"/><polyline points="554,200 577,207"/><polyline points="643,217 678,217 679,578 649,797"/>
<polyline points="443,198 455,202 455,283 540,347 553,400 625,663 629,795"/><polyline points="445,343 518,362 532,400 618,667 627,795"/><polyline points="439,393 460,398 613,670 623,795"/><polyline points="437,458 461,468 605,670 620,795"/><polyline points="435,524 458,530 595,672 617,795"/><polyline points="431,615 558,670 578,677 613,795"/><polyline points="632,502 630,795"/>
<polyline points="445,270 488,277"/><polyline points="552,298 574,307"/><polyline points="617,352 625,374"/><polyline points="633,429 633,447"/>
<polyline points="93,162 119,166"/><polyline points="203,183 216,185"/><polyline points="283,212 304,220"/><polyline points="362,247 378,253"/><polyline points="92,221 124,226"/><polyline points="188,241 209,247"/><polyline points="275,272 307,286"/><polyline points="366,313 380,319"/><polyline points="91,279 122,284"/><polyline points="184,300 208,307"/><polyline points="273,336 303,349"/><polyline points="361,377 373,383"/><polyline points="89,341 122,344"/><polyline points="184,361 207,368"/><polyline points="272,398 300,410"/><polyline points="88,399 121,405"/><polyline points="185,423 207,432"/><polyline points="273,461 296,472"/><polyline points="357,442 372,448"/><polyline points="86,460 120,467"/><polyline points="183,488 206,497"/><polyline points="272,528 294,539"/><polyline points="353,503 369,511"/><polyline points="349,572 365,580"/>
<polyline points="85,531 123,550 163,627 163,637"/><polyline points="85,589 115,605 143,642"/><polyline points="83,639 132,652"/><polyline points="82,683 125,678"/><polyline points="82,731 93,725 133,696"/><polyline points="82,794 92,790 145,705"/><polyline points="166,708 170,760"/><polyline points="195,758 209,740 209,612"/><polyline points="242,596 275,607 274,625"/><polyline points="282,680 283,739"/><polyline points="299,743 327,727"/><polyline points="399,712 431,712"/><polyline points="480,737 491,750"/><polyline points="317,794 356,816"/><polyline points="272,823 274,807"/><polyline points="163,816 152,843"/><polyline points="79,866 109,866"/><polyline points="175,863 235,856"/>
<polyline points="543,797 574,813"/>
<polyline points="79,929 103,929"/><polyline points="173,929 198,929"/><polyline points="171,919 266,896 288,902"/><polyline points="354,916 384,916"/><polyline points="449,916 465,916"/>
<polyline points="78,988 102,988"/><polyline points="171,988 195,988"/><polyline points="170,980 264,954 286,963"/><polyline points="352,977 381,977"/><polyline points="446,976 463,976"/>
<polyline points="77,1047 102,1047"/><polyline points="171,1047 190,1047"/><polyline points="168,1037 254,1010 287,1023"/><polyline points="352,1037 379,1037"/><polyline points="445,1037 464,1037"/>
<polyline points="75,1108 96,1108"/><polyline points="164,1107 186,1107"/><polyline points="162,1098 254,1072 284,1083"/><polyline points="349,1098 379,1098"/><polyline points="444,1098 462,1098"/>
<polyline points="75,1169 98,1169"/><polyline points="164,1169 187,1169"/><polyline points="158,1153 256,1126 282,1140"/><polyline points="347,1160 376,1160"/><polyline points="442,1160 461,1160"/>
<polyline points="76,1229 98,1229"/><polyline points="164,1229 186,1229"/><polyline points="161,1217 237.500,1188 281,1207"/><polyline points="346,1219 371,1219"/><polyline points="437,1219 460,1219"/>
<polyline points="75,1291 96,1291"/><polyline points="166,1290 184,1290"/><polyline points="166,1279 243,1255 279,1268"/><polyline points="345,1281 373,1281"/><polyline points="438,1281 462,1281"/>
<polyline points="75,1351 98,1351"/><polyline points="164,1350 180,1350"/><polyline points="162,1342 246,1314 277.500,1328"/><polyline points="343,1345 371,1345"/><polyline points="436,1345 461,1345"/>
<polyline points="75,1414 97,1414"/><polyline points="162,1413 180,1413"/><polyline points="161,1403 243,1378 277,1394"/><polyline points="342,1409 370,1409"/><polyline points="436,1408 458,1408"/>
<polyline points="76,1480 97,1480"/><polyline points="162,1479 178,1479"/><polyline points="162,1468 248,1445 277.500,1457"/><polyline points="343,1473 370,1473"/><polyline points="436,1473 456,1473"/>
<polyline points="76,1541 96,1541"/><polyline points="161,1541 177,1541"/><polyline points="161,1532 246,1507 275,1522"/><polyline points="340,1541 368,1541"/><polyline points="433,1541 455,1541"/>
<polyline points="532,894 573,873"/><polyline points="530,961 555,950 599,888"/><polyline points="531,1028 547,1023 605,891"/><polyline points="528,1091 543,1088 610,892"/><polyline points="528,1145 543,1138 613,893"/><polyline points="528,1213 543,1213 615,893"/><polyline points="527,1277 539,1277 617,893"/><polyline points="526,1344 536,1344 618,893"/><polyline points="523,1399 537.500,1398 619.500,893"/><polyline points="521,1472 537,1469 621,893"/><polyline points="520,1534 546,1532 622,893"/>
<polyline points="644,892 663,948"/><polyline points="674,1024 674,1041"/><polyline points="673,1102 673,1131"/><polyline points="673,1192 673,1219"/><polyline points="704,1244 748,1238"/><polyline points="781,1203 781,1186"/><polyline points="782,1124 782,1113"/><polyline points="783,1052 783,1039"/><polyline points="797,982 826,932"/>
</g>
</svg>
